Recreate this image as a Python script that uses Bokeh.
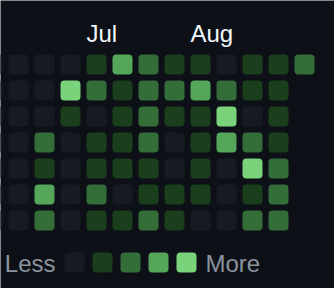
from bokeh.plotting import figure
from bokeh.models import Range1d, ColumnDataSource
from bokeh.core.properties import value
from bokeh.embed import file_html
from bokeh.resources import INLINE

# Contribution levels: one list per weekday row (Sun..Sat), one entry per week column
# (first column is the partially visible week at the left edge); None = no day yet.
weeks = list(range(13))
month_labels = ["Jul", "Aug"]
month_weeks = [4, 8]
row_sun = [0, 0, 0, 0, 1, 3, 2, 1, 1, 0, 1, 1, 2]
row_mon = [0, 0, 0, 4, 2, 1, 2, 2, 3, 2, 1, 1, None]
row_tue = [0, 0, 0, 1, 0, 1, 2, 1, 1, 4, 0, 1, None]
row_wed = [0, 0, 2, 0, 1, 1, 2, 0, 1, 3, 2, 1, None]
row_thu = [0, 0, 1, 0, 1, 1, 1, 0, 1, 0, 4, 2, None]
row_fri = [0, 0, 3, 0, 2, 0, 1, 1, 1, 0, 1, 2, None]
row_sat = [0, 0, 2, 0, 1, 1, 2, 1, 0, 0, 2, 2, None]
legend_levels = [0, 1, 2, 3, 4]

palette = ["#161b22", "#1b3f1d", "#356d38", "#55a55a", "#7ad37b"]
BG = "#0d1117"

PITCH = 26.0
CELL = 20.0 / PITCH

rows = [row_sun, row_mon, row_tue, row_wed, row_thu, row_fri, row_sat]
xs, ys, cols = [], [], []
for d, row in enumerate(rows):
    for w, lv in zip(weeks, row):
        if lv is None:
            continue
        xs.append(w)
        ys.append(d)
        cols.append(palette[lv])
src = ColumnDataSource(dict(left=xs, right=[x + CELL for x in xs],
                            top=ys, bottom=[y + CELL for y in ys], color=cols))

W, H = 334, 288
p = figure(width=W, height=H, output_backend="svg", toolbar_location=None,
           x_axis_location=None, y_axis_location=None, min_border=0,
           x_range=Range1d(18 / PITCH, (W + 18) / PITCH),
           y_range=Range1d((H - 54) / PITCH, -54 / PITCH))
p.background_fill_color = BG
p.border_fill_color = BG
p.outline_line_color = None
p.xgrid.visible = False
p.ygrid.visible = False

p.quad(left="left", right="right", top="top", bottom="bottom", source=src,
       fill_color="color", line_color=None, border_radius=4)


def px_x(px):
    return (px + 18) / PITCH


def px_y(py):
    return (py - 54) / PITCH


# month labels
p.text(x=month_weeks, y=[px_y(33)] * len(month_weeks), text=month_labels,
       text_font=value("Liberation Sans"), text_font_size="24px",
       text_color="#f0f6fc", text_align="left", text_baseline="alphabetic")

# legend
lx = [px_x(64 + 28 * i) for i in range(len(legend_levels))]
lsrc = ColumnDataSource(dict(left=lx, right=[x + CELL for x in lx],
                             top=[px_y(252)] * len(lx), bottom=[px_y(272)] * len(lx),
                             color=[palette[i] for i in legend_levels]))
p.quad(left="left", right="right", top="top", bottom="bottom", source=lsrc,
       fill_color="color", line_color=None, border_radius=4)
p.text(x=[px_x(55)], y=[px_y(263)], text=["Less"], text_font=value("Liberation Sans"),
       text_font_size="24px", text_color="#8b949e", text_align="right",
       text_baseline="alphabetic")
p.text(x=[px_x(205)], y=[px_y(263)], text=["More"], text_font=value("Liberation Sans"),
       text_font_size="24px", text_color="#8b949e", text_align="left",
       text_baseline="alphabetic")

open("out.html", "w").write(file_html(p, INLINE))
